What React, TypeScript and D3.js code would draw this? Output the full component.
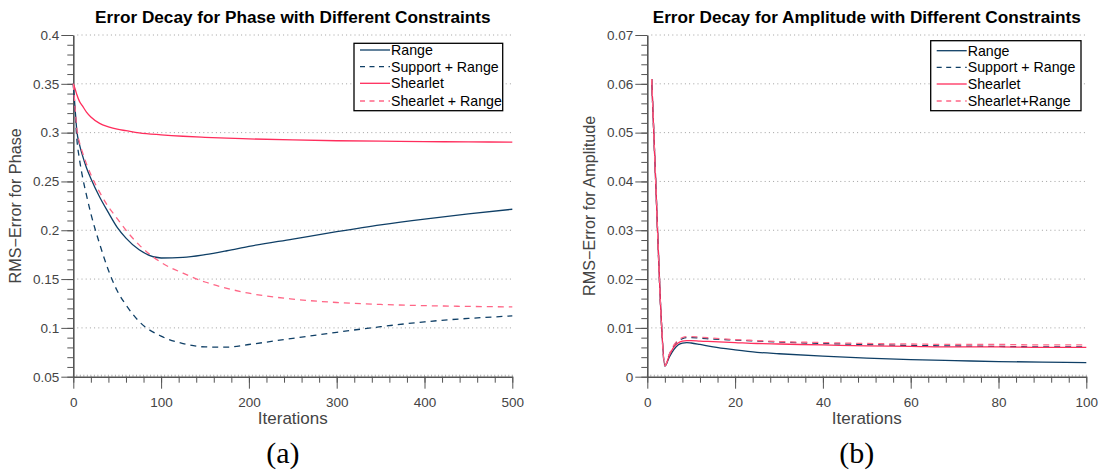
import React, { useEffect, useRef } from 'react';
import * as d3 from 'd3';

// phase panel (a)
const phaseIters = [0, 2, 4, 7, 10, 15, 20, 30, 40, 50, 60, 75, 100, 125, 150, 175, 200, 250, 300, 350, 400, 450, 500];
const phaseRange = [0.35, 0.325, 0.302, 0.288, 0.278, 0.264, 0.253, 0.234, 0.218, 0.203, 0.192, 0.18, 0.1716, 0.1722, 0.175, 0.179, 0.1835, 0.191, 0.1985, 0.2055, 0.2115, 0.2168, 0.2215];
const phaseSupportRange = [0.35, 0.322, 0.294, 0.273, 0.257, 0.236, 0.217, 0.186, 0.159, 0.138, 0.1235, 0.1065, 0.0915, 0.084, 0.0805, 0.0803, 0.083, 0.0893, 0.0955, 0.1012, 0.1062, 0.1097, 0.1122];
const phaseShearlet = [0.35, 0.345, 0.339, 0.332, 0.328, 0.321, 0.316, 0.3095, 0.306, 0.3035, 0.302, 0.2998, 0.2978, 0.2963, 0.2952, 0.2943, 0.2936, 0.2925, 0.2917, 0.2912, 0.2908, 0.2905, 0.2903];
const phaseShearletRange = [0.35, 0.326, 0.304, 0.29, 0.281, 0.268, 0.257, 0.239, 0.224, 0.212, 0.2, 0.185, 0.167, 0.156, 0.147, 0.1405, 0.1355, 0.1295, 0.126, 0.124, 0.1228, 0.122, 0.1215];
const phaseXTicks = [0, 100, 200, 300, 400, 500];
const phaseYTicks = [0.05, 0.1, 0.15, 0.2, 0.25, 0.3, 0.35, 0.4];
const phaseYLabels = ['0.05', '0.1', '0.15', '0.2', '0.25', '0.3', '0.35', '0.4'];

// amplitude panel (b)
const ampIters = [1, 2, 3, 4, 5, 6, 7, 8, 9, 10, 12, 15, 20, 25, 30, 40, 50, 60, 70, 80, 90, 100];
const ampRange = [0.061, 0.038, 0.015, 0.0022, 0.004, 0.0055, 0.0065, 0.0069, 0.007, 0.0069, 0.0066, 0.0061, 0.0055, 0.005, 0.0047, 0.0042, 0.0038, 0.0035, 0.0033, 0.0031, 0.003, 0.0029];
const ampSupportRange = [0.061, 0.038, 0.015, 0.0022, 0.0045, 0.0062, 0.0073, 0.0078, 0.008, 0.008, 0.0079, 0.0077, 0.0075, 0.0073, 0.0071, 0.0068, 0.0066, 0.0064, 0.0063, 0.0062, 0.0061, 0.0061];
const ampShearlet = [0.061, 0.038, 0.015, 0.0022, 0.0043, 0.006, 0.0069, 0.0073, 0.0074, 0.0074, 0.0073, 0.0072, 0.007, 0.0068, 0.0067, 0.0065, 0.0063, 0.0062, 0.0061, 0.0061, 0.006, 0.006];
const ampShearletRange = [0.061, 0.038, 0.015, 0.0023, 0.0046, 0.0064, 0.0075, 0.008, 0.0082, 0.0082, 0.0081, 0.0079, 0.0076, 0.0074, 0.0072, 0.007, 0.0068, 0.0067, 0.0066, 0.0066, 0.0065, 0.0065];
const ampXTicks = [0, 20, 40, 60, 80, 100];
const ampYTicks = [0, 0.01, 0.02, 0.03, 0.04, 0.05, 0.06, 0.07];
const ampYLabels = ['0', '0.01', '0.02', '0.03', '0.04', '0.05', '0.06', '0.07'];

const phaseNames = ['Range', 'Support + Range', 'Shearlet', 'Shearlet + Range'];
const ampNames = ['Range', 'Support + Range', 'Shearlet', 'Shearlet+Range'];

const NAVY = '#0f3f66';
const RED = '#ff2d5c';
const PINK = '#ff6686';
const styles = [
  { color: NAVY, dash: null },
  { color: NAVY, dash: '6,5' },
  { color: RED, dash: null },
  { color: PINK, dash: '6,5' },
];

const FONT = '"Liberation Sans", Arial, sans-serif';
const W = 439;
const TOP = 35;
const BOTTOM = 376.7;

function Panel({ ox, title, yLabel, caption, iters, series, names, xMax, xTicks, xMinor, xHatch, yMin, yMax, yTicks, yLabels, yMinor, legend }) {
  const ref = useRef(null);

  useEffect(() => {
    const g = d3.select(ref.current);
    g.selectAll('*').remove();

    const x = d3.scaleLinear().domain([0, xMax]).range([ox, ox + W]);
    const y = d3.scaleLinear().domain([yMin, yMax]).range([BOTTOM, TOP]);

    // dotted grid
    g.append('g')
      .selectAll('line')
      .data(yTicks.filter((v) => v > yMin + 1e-9))
      .join('line')
      .attr('x1', ox + 4)
      .attr('x2', ox + W)
      .attr('y1', (d) => y(d))
      .attr('y2', (d) => y(d))
      .attr('stroke', '#a0a0a0')
      .attr('stroke-dasharray', '1,3.2');

    // minor ticks
    const xm = d3.range(0, xMax + 1e-9, xMinor);
    const ym = d3.range(yMin, yMax + 1e-9, yMinor);
    g.append('g')
      .attr('transform', `translate(0,${BOTTOM})`)
      .call(d3.axisBottom(x).tickValues(xm).tickSize(6).tickFormat(() => ''))
      .call((s) => s.select('.domain').remove());
    g.append('g')
      .attr('transform', `translate(${ox},0)`)
      .call(d3.axisLeft(y).tickValues(ym).tickSize(6).tickFormat(() => ''))
      .call((s) => s.select('.domain').remove());
    // tiny hatch on the x axis
    g.append('g')
      .selectAll('line')
      .data(d3.range(0, xMax + 1e-9, xHatch))
      .join('line')
      .attr('x1', (d) => x(d))
      .attr('x2', (d) => x(d))
      .attr('y1', BOTTOM)
      .attr('y2', BOTTOM - 2)
      .attr('stroke', '#999')
      .attr('stroke-width', 0.8);

    // major axes
    const xa = g.append('g')
      .attr('transform', `translate(0,${BOTTOM})`)
      .call(d3.axisBottom(x).tickValues(xTicks).tickSize(12).tickSizeOuter(0).tickPadding(9));
    const ya = g.append('g')
      .attr('transform', `translate(${ox},0)`)
      .call(d3.axisLeft(y).tickValues(yTicks).tickSize(12).tickSizeOuter(0).tickPadding(2)
        .tickFormat((d, i) => yLabels[i]));
    [xa, ya].forEach((a) => {
      a.selectAll('text').attr('font-family', FONT).attr('font-size', 13.5).attr('fill', '#444');
    });
    g.selectAll('.tick line').attr('stroke', '#555');
    g.selectAll('.domain').attr('stroke', '#555').attr('stroke-width', 1.6);

    // curves
    const line = d3.line().x((d) => x(d[0])).y((d) => y(d[1])).curve(d3.curveMonotoneX);
    series.forEach((vals, i) => {
      g.append('path')
        .datum(iters.map((it, j) => [it, vals[j]]))
        .attr('d', line)
        .attr('fill', 'none')
        .attr('stroke', styles[i].color)
        .attr('stroke-width', 1.3)
        .attr('stroke-dasharray', styles[i].dash);
    });

    // legend
    const lg = g.append('g');
    lg.append('rect')
      .attr('x', legend.x)
      .attr('y', legend.y)
      .attr('width', legend.w)
      .attr('height', legend.h)
      .attr('fill', '#fff')
      .attr('stroke', '#000')
      .attr('stroke-width', 1.3);
    names.forEach((name, i) => {
      const cy = legend.rows[i];
      lg.append('line')
        .attr('x1', legend.x + 6)
        .attr('x2', legend.x + 36)
        .attr('y1', cy)
        .attr('y2', cy)
        .attr('stroke', styles[i].color)
        .attr('stroke-width', 1.3)
        .attr('stroke-dasharray', styles[i].dash ? '5,4.5' : null);
      lg.append('text')
        .attr('x', legend.x + 37)
        .attr('y', cy + 5)
        .attr('font-family', FONT)
        .attr('font-size', 14.2)
        .attr('fill', '#000')
        .text(name);
    });

    // titles
    g.append('text')
      .attr('x', ox + W / 2)
      .attr('y', 23)
      .attr('text-anchor', 'middle')
      .attr('font-family', FONT)
      .attr('font-weight', 'bold')
      .attr('font-size', 17.2)
      .text(title);
    g.append('text')
      .attr('x', ox + W / 2)
      .attr('y', 424)
      .attr('text-anchor', 'middle')
      .attr('font-family', FONT)
      .attr('font-size', 17)
      .attr('fill', '#444')
      .text('Iterations');
    g.append('text')
      .attr('transform', `translate(${ox - 52},${(TOP + BOTTOM) / 2}) rotate(-90)`)
      .attr('text-anchor', 'middle')
      .attr('font-family', FONT)
      .attr('font-size', 16.2)
      .attr('fill', '#444')
      .text(yLabel);
    g.append('text')
      .attr('x', ox + W / 2 - 10)
      .attr('y', 463)
      .attr('text-anchor', 'middle')
      .attr('font-family', '"Liberation Serif", "DejaVu Serif", serif')
      .attr('font-size', 30)
      .attr('fill', '#000')
      .text(caption);
  }, []);

  return <g ref={ref} />;
}

export default function App() {
  return (
    <svg width={1100} height={475} style={{ position: 'absolute', left: 0, top: 0, background: '#fff' }}>
      <Panel
        ox={73.3}
        title="Error Decay for Phase with Different Constraints"
        yLabel="RMS−Error for Phase"
        caption="(a)"
        iters={phaseIters}
        series={[phaseRange, phaseSupportRange, phaseShearlet, phaseShearletRange]}
        names={phaseNames}
        xMax={500}
        xTicks={phaseXTicks}
        xMinor={20}
        xHatch={4}
        yMin={0.05}
        yMax={0.4}
        yTicks={phaseYTicks}
        yLabels={phaseYLabels}
        yMinor={0.01}
        legend={{ x: 354, y: 43.3, w: 148.7, h: 67.4, rows: [50, 66.7, 83.3, 101] }}
      />
      <Panel
        ox={647.3}
        title="Error Decay for Amplitude with Different Constraints"
        yLabel="RMS−Error for Amplitude"
        caption="(b)"
        iters={ampIters}
        series={[ampRange, ampSupportRange, ampShearlet, ampShearletRange]}
        names={ampNames}
        xMax={100}
        xTicks={ampXTicks}
        xMinor={4}
        xHatch={0.8}
        yMin={0}
        yMax={0.07}
        yTicks={ampYTicks}
        yLabels={ampYLabels}
        yMinor={0.002}
        legend={{ x: 930.7, y: 40.7, w: 150.3, h: 70, rows: [50.7, 67.3, 84, 101] }}
      />
    </svg>
  );
}
